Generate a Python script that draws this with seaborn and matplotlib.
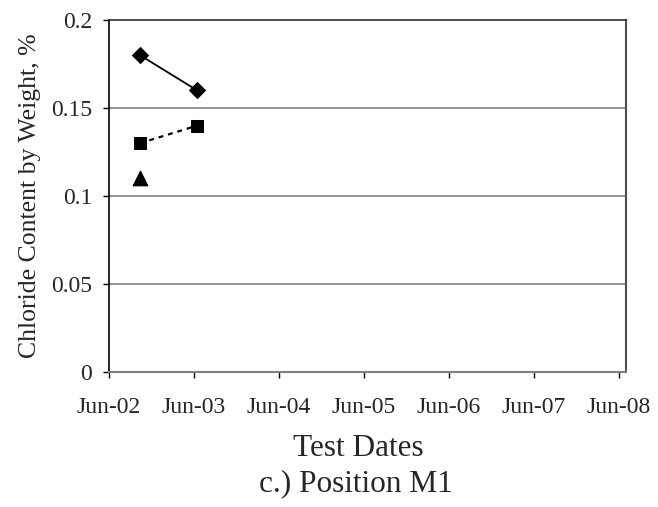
import matplotlib
matplotlib.use("Agg")
import matplotlib.pyplot as plt
import seaborn as sns
import pandas as pd

sns.set_theme(style="white")
plt.rcParams['font.family'] = ['Liberation Serif', 'DejaVu Serif']

dates_a = ["2002-10-12", "2003-06-15"]
diamond_vals = [0.18, 0.16]
dates_b = ["2002-10-12", "2003-06-15"]
square_vals = [0.13, 0.14]
dates_c = ["2002-10-12"]
triangle_vals = [0.11]
tick_labels = ["Jun-02", "Jun-03", "Jun-04", "Jun-05", "Jun-06", "Jun-07", "Jun-08"]
yticks = [0, 0.05, 0.1, 0.15, 0.2]
ytick_labels = ["0", "0.05", "0.1", "0.15", "0.2"]

df_a = pd.DataFrame({"date": pd.to_datetime(dates_a), "val": diamond_vals})
df_b = pd.DataFrame({"date": pd.to_datetime(dates_b), "val": square_vals})
df_c = pd.DataFrame({"date": pd.to_datetime(dates_c), "val": triangle_vals})

fig = plt.figure(figsize=(6.58, 5.07), dpi=100)
ax = fig.add_axes([109/658, 1-372/507, (626-109)/658, (372-20)/507])

for y in [0.05, 0.1, 0.15]:
    ax.axhline(y, color="#808080", lw=1.2, zorder=0)

sns.lineplot(data=df_a, x="date", y="val", ax=ax, color="black", lw=1.3,
             marker="D", markersize=8, markeredgecolor="black")
sns.lineplot(data=df_b, x="date", y="val", ax=ax, color="black", lw=1.6,
             marker="s", markersize=9, markeredgecolor="black")
ax.lines[-1].set_dashes([2.2, 2.2])
sns.scatterplot(data=df_c, x="date", y="val", ax=ax, color="black",
                marker="^", s=110, edgecolor="black")

tick_dates = pd.to_datetime([f"20{l[-2:]}-06-01" for l in tick_labels])
ax.set_xticks(tick_dates)
ax.set_xticklabels(tick_labels)
ax.set_xlim(pd.Timestamp("2002-06-01"), pd.Timestamp("2008-07-01"))
ax.set_ylim(0, 0.2)
ax.set_yticks(yticks)
ax.set_yticklabels(ytick_labels)

ax.tick_params(axis="both", which="both", direction="out", length=4.3, width=1,
               color="black", labelsize=17, bottom=True, left=True)
ax.tick_params(axis="x", pad=14)
ax.tick_params(axis="y", pad=7.7)

ax.spines["left"].set_color("black")
ax.spines["left"].set_linewidth(1.2)
ax.spines["top"].set_color("#303030")
ax.spines["top"].set_linewidth(1.2)
ax.spines["right"].set_color("#505050")
ax.spines["right"].set_linewidth(1.5)
ax.spines["bottom"].set_color("#808080")
ax.spines["bottom"].set_linewidth(1.5)

ax.set_xlabel("")
ax.set_ylabel("Chloride Content by Weight, %", fontsize=18.5, labelpad=7)

fig.text(358/658, 1-448/507, "Test Dates", ha="center", va="center", fontsize=22.5)
fig.text(356/658, 1-484/507, "c.) Position M1", ha="center", va="center", fontsize=22.5)

fig.savefig("out.png", dpi=100)
